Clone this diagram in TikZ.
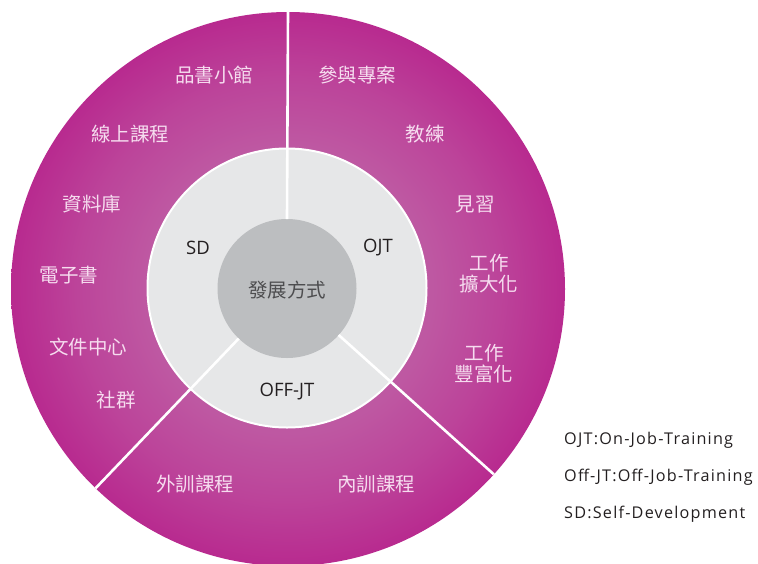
\documentclass[tikz,border=0pt]{standalone}
\usepackage{fontspec}
\setmainfont{Open Sans}
\newfontfamily\legendfont[LetterSpace=7.5]{Open Sans}
\newfontfamily\cjk{Noto Sans CJK TC}
\definecolor{mlight}{RGB}{190,88,162}
\definecolor{mmid}{RGB}{188,68,154}
\definecolor{mdark}{RGB}{184,42,143}
\definecolor{ringgray}{RGB}{230,231,232}
\definecolor{coregray}{RGB}{188,190,192}
\definecolor{labcol}{RGB}{246,220,239}
\definecolor{inktxt}{RGB}{35,31,32}
\definecolor{coretxt}{RGB}{77,77,79}
\pgfdeclareradialshading{ringshade}{\pgfpoint{0bp}{0bp}}{color(0bp)=(mlight); color(13bp)=(mlight); color(19bp)=(mmid); color(25bp)=(mdark); color(50bp)=(mdark)}
\tikzset{
  lab/.style={text=labcol, font=\cjk\fontsize{19.5}{21}\selectfont, align=center, inner sep=0pt},
  ringlab/.style={text=inktxt, font=\fontsize{18.5}{20}\selectfont, inner sep=0pt},
  legend/.style={text=inktxt, font=\legendfont\fontsize{16.2}{18}\selectfont, inner sep=0pt, anchor=base west},
  divider/.style={white, line width=2.6pt},
}
\begin{document}
\begin{tikzpicture}[x=1pt,y=-1pt]
\useasboundingbox (0,0) rectangle (758,563);
\clip (0,0) rectangle (758,563);
\node[circle, minimum size=554pt, inner sep=0pt, outer sep=0pt, shading=ringshade] (outer) at (288,289) {};
\node[circle, minimum size=279pt, inner sep=0pt, outer sep=0pt, fill=ringgray, draw=white, line width=2pt] (mid) at (287,288) {};
\node[circle, minimum size=139pt, inner sep=0pt, outer sep=0pt, fill=coregray] (core) at (287,288.5) {};
\draw[divider] (core.90) -- (outer.90);
\draw[divider] (core.226.5) -- (outer.226.5);
\draw[divider] (core.-42.5) -- (outer.-42.5);
\node[text=coretxt, font=\cjk\fontsize{19.5}{21}\selectfont, inner sep=0pt] (title) at (287,290.5) {發展方式};
\node[ringlab] (sd) at (198,248) {SD};
\node[ringlab] (ojt) at (378,248) {OJT};
\node[ringlab] (offjt) at (287,392) {OFF-JT};
\node[lab] (l1) at (214,75) {品書小館};
\node[lab] (l2) at (130,134) {線上課程};
\node[lab] (l3) at (92,204) {資料庫};
\node[lab] (l4) at (69,275) {電子書};
\node[lab] (l5) at (88,347) {文件中心};
\node[lab] (l6) at (116,400) {社群};
\node[lab] (r1) at (357,75) {參與專案};
\node[lab] (r2) at (425,134) {教練};
\node[lab] (r3) at (475,204) {見習};
\node[lab] (r4) at (489,274) {工作\\擴大化};
\node[lab] (r5) at (484,364) {工作\\豐富化};
\node[lab] (b1) at (195,484) {外訓課程};
\node[lab] (b2) at (376,484) {內訓課程};
\node[legend] (g1) at (564,444) {OJT:On-Job-Training};
\node[legend] (g2) at (564,481) {Off-JT:Off-Job-Training};
\node[legend] (g3) at (564,518) {SD:Self-Development};
\end{tikzpicture}
\end{document}
